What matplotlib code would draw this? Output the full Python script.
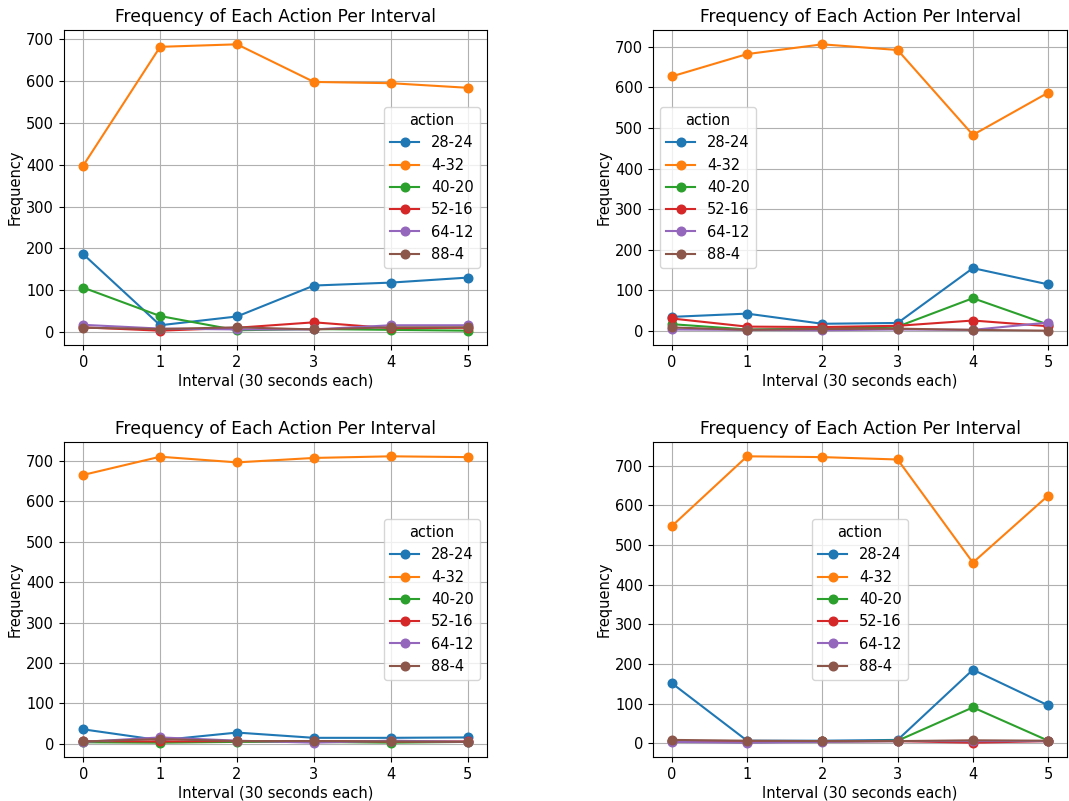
import matplotlib
matplotlib.use("Agg")
import matplotlib.pyplot as plt

intervals = [0, 1, 2, 3, 4, 5]
actions = ["28-24", "4-32", "40-20", "52-16", "64-12", "88-4"]

# Per-panel action counts per interval
panel_a = {
    "28-24": [186, 16, 37, 111, 118, 130],
    "4-32":  [398, 682, 688, 598, 595, 584],
    "40-20": [106, 38, 4, 7, 5, 3],
    "52-16": [11, 3, 10, 23, 9, 10],
    "64-12": [17, 8, 6, 6, 16, 16],
    "88-4":  [10, 7, 11, 6, 11, 11],
}
panel_b = {
    "28-24": [35, 43, 18, 20, 155, 115],
    "4-32":  [627, 682, 706, 692, 483, 587],
    "40-20": [17, 4, 6, 11, 81, 16],
    "52-16": [31, 11, 10, 13, 26, 12],
    "64-12": [4, 3, 2, 4, 3, 21],
    "88-4":  [9, 3, 5, 6, 3, 1],
}
panel_c = {
    "28-24": [36, 9, 28, 15, 15, 16],
    "4-32":  [665, 710, 696, 707, 711, 709],
    "40-20": [4, 3, 5, 5, 3, 5],
    "52-16": [7, 6, 7, 7, 6, 6],
    "64-12": [5, 16, 8, 3, 8, 5],
    "88-4":  [6, 12, 7, 7, 6, 5],
}
panel_d = {
    "28-24": [152, 7, 7, 9, 186, 96],
    "4-32":  [548, 724, 722, 716, 456, 625],
    "40-20": [5, 3, 5, 7, 91, 7],
    "52-16": [7, 4, 5, 6, 2, 6],
    "64-12": [4, 2, 4, 6, 6, 6],
    "88-4":  [9, 7, 6, 6, 8, 7],
}

panels = [panel_a, panel_b, panel_c, panel_d]
legend_locs = ["center right", "center left", "center right", "center"]
colors = ["#1f77b4", "#ff7f0e", "#2ca02c", "#d62728", "#9467bd", "#8c564b"]

plt.rcParams.update({
    "font.size": 10.5,
    "axes.titlesize": 12.3,
    "lines.markersize": 6.2,
})

fig = plt.figure(figsize=(10.69, 8.01), dpi=100)
W, H = 1069, 801
boxes = [
    (64, 30, 487, 345),
    (653, 30, 1067, 345),
    (64, 442, 487, 757),
    (653, 442, 1067, 757),
]

for data, loc, (x0, y0, x1, y1) in zip(panels, legend_locs, boxes):
    ax = fig.add_axes([x0 / W, 1 - y1 / H, (x1 - x0) / W, (y1 - y0) / H])
    for name, c in zip(actions, colors):
        ax.plot(intervals, data[name], marker="o", color=c, label=name)
    ax.set_title("Frequency of Each Action Per Interval")
    ax.set_xlabel("Interval (30 seconds each)", labelpad=2.5)
    ax.set_ylabel("Frequency", labelpad=2.5)
    ax.set_xticks(intervals)
    ax.grid(True)
    ax.legend(title="action", loc=loc)

fig.savefig("out.png", dpi=100)
